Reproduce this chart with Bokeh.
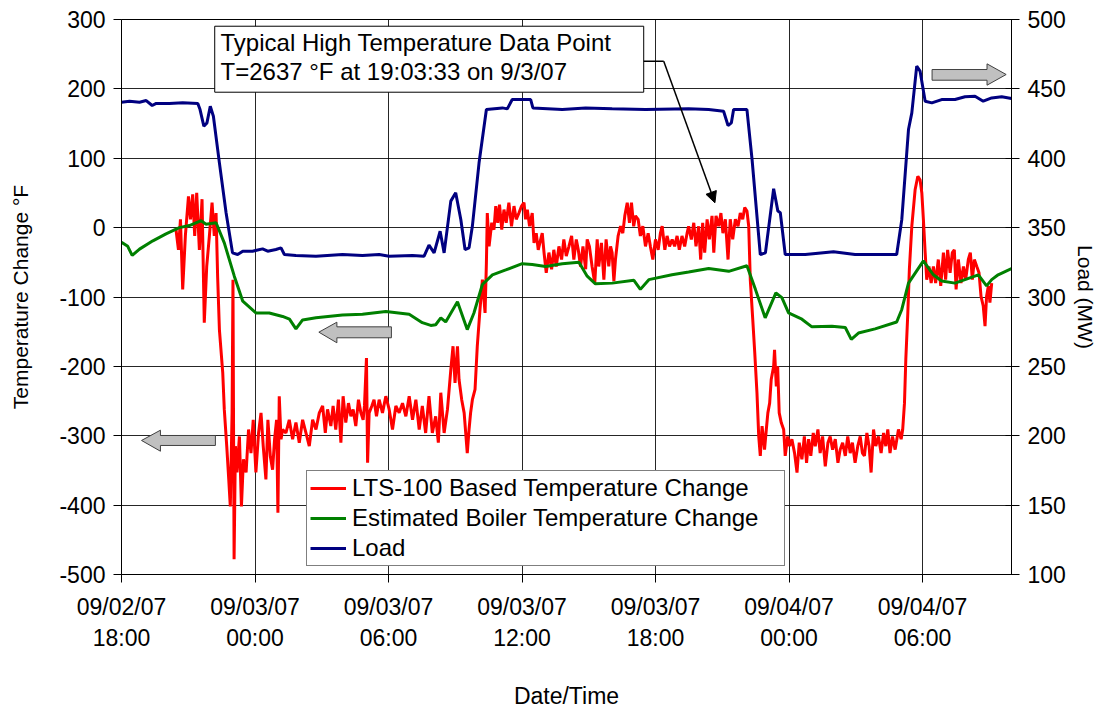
from bokeh.plotting import figure
from bokeh.models import (Range1d, LinearAxis, FixedTicker, Legend, LegendItem,
                          Label, Arrow, NormalHead)
from bokeh.embed import file_html
from bokeh.resources import INLINE

FONT = "Liberation Sans"
TICK_FS = "23px"
TEXT_FS = "24px"
VTITLE_FS = "21px"
XTITLE_FS = "23px"

# ---------------- data (hours after 09/02/07 18:00) ----------------
lts_hours = [
    2.45, 2.56, 2.65, 2.75, 2.87, 3.01, 3.10, 3.20, 3.29, 3.38,
    3.50, 3.62, 3.72, 3.83, 3.95, 4.07, 4.17, 4.25, 4.32, 4.40,
    4.55, 4.62, 4.73, 4.82, 4.89, 4.97, 5.01, 5.06, 5.12, 5.19,
    5.30, 5.39, 5.48, 5.60, 5.71, 5.82, 5.92, 6.04, 6.16, 6.27,
    6.37, 6.49, 6.58, 6.69, 6.79, 6.88, 6.97, 7.03, 7.09, 7.17,
    7.24, 7.39, 7.54, 7.69, 7.84, 7.99, 8.14, 8.29, 8.44, 8.59,
    8.74, 8.89, 9.04, 9.16, 9.26, 9.41, 9.51, 9.63, 9.75, 9.86,
    9.96, 10.08, 10.20, 10.31, 10.41, 10.53, 10.65, 10.76, 10.86, 10.92,
    11.01, 11.06, 11.13, 11.25, 11.35, 11.46,
    11.58, 11.73, 11.88, 12.03, 12.18, 12.33, 12.48, 12.63, 12.78, 12.93,
    13.08, 13.23, 13.38, 13.52, 13.67, 13.82, 13.97, 14.12, 14.24, 14.35,
    14.50, 14.65, 14.80, 14.90, 14.99, 15.10, 15.17, 15.29, 15.40, 15.47,
    15.54, 15.62, 15.69, 15.77, 15.89, 15.99, 16.10, 16.22, 16.34, 16.40,
    16.44, 16.52, 16.64, 16.74, 16.82, 16.91, 16.99, 17.09, 17.19, 17.29,
    17.41, 17.53, 17.64, 17.74, 17.86, 17.98, 18.09, 18.16, 18.24, 18.34,
    18.46, 18.54, 18.64, 18.73, 18.84, 18.91, 18.99, 19.09, 19.21, 19.33,
    19.43, 19.54, 19.66, 19.78, 19.88, 19.99, 20.11, 20.23, 20.33, 20.44,
    20.53, 20.63, 20.74, 20.86, 20.93, 21.03, 21.15, 21.27, 21.38, 21.45,
    21.57, 21.68, 21.78, 21.90, 21.98, 22.05, 22.13, 22.20, 22.32, 22.43,
    22.53, 22.62, 22.73, 22.83, 22.92, 23.02, 23.10, 23.22, 23.32, 23.43,
    23.55, 23.67, 23.77, 23.88, 24.00, 24.12, 24.22, 24.30, 24.42, 24.52,
    24.63, 24.75, 24.86, 24.97, 25.07, 25.19, 25.31, 25.42,
    25.49, 25.61, 25.72, 25.82, 25.94, 26.03, 26.12, 26.21, 26.32, 26.42,
    26.54, 26.62, 26.72, 26.84, 26.94, 27.03, 27.14, 27.26, 27.36, 27.47,
    27.59, 27.71, 27.81, 27.92, 28.01, 28.11, 28.19, 28.26, 28.37, 28.46,
    28.56, 28.64, 28.71, 28.79, 28.90, 28.98, 29.05, 29.13, 29.20, 29.31,
    29.35, 29.43, 29.49, 29.56, 29.65, 29.76, 29.83, 29.94, 30.03, 30.13,
    30.25, 30.36, 30.46, 30.58, 30.69, 30.79, 30.88, 30.98, 31.09, 31.18,
    31.30, 31.40, 31.51, 31.63, 31.75, 31.85, 31.96, 32.08, 32.20, 32.30,
    32.41, 32.53, 32.64, 32.75, 32.85, 32.97, 33.09, 33.20, 33.30, 33.39,
    33.50, 33.60, 33.69, 33.80, 33.90, 34.02, 34.14, 34.25, 34.35, 34.44,
    34.54, 34.65, 34.77, 34.92, 35.04, 35.11, 35.19, 35.25, 35.34, 35.41,
    35.52, 35.67, 35.79, 35.89, 35.97, 36.04, 36.12, 36.19, 36.29, 36.39,
    36.49, 36.59, 36.71, 36.82, 36.94, 37.04, 37.13, 37.24, 37.34, 37.43,
    37.51, 37.61, 37.73, 37.84, 37.94, 38.06, 38.15, 38.24, 38.33, 38.44,
    38.54, 38.63, 38.73, 38.81, 38.88, 38.96, 39.03, 39.11,
]
lts_temp = [
    -3, -32, 12, -89, -12, 45, 12, 48, -12, 50,
    -32, 41, -137, -56, -12, 36, -12, 21, -70, -147,
    -209, -262, -315, -363, -402, -267, -75, -478, -315, -353,
    -301, -402, -334, -353, -291, -325, -277, -353, -296, -267,
    -315, -363, -277, -330, -349, -305, -277, -411, -243, -305,
    -291, -296, -277, -305, -281, -310, -277, -296, -315, -277,
    -291, -267, -257, -296, -262, -286, -257, -291, -248, -310,
    -243, -281, -253, -272, -262, -286, -248, -267, -277, -257,
    -188, -339, -267, -257, -248, -272,
    -248, -267, -243, -262, -291, -257, -267, -253, -272, -243,
    -277, -248, -291, -257, -296, -243, -296, -272, -310, -238,
    -296, -262, -205, -171, -224, -171, -219, -248, -267, -296,
    -325, -291, -267, -248, -233, -171, -123, -75, -123, -51,
    21, -27, 7, -3, 31, 7, 33, -3, 26, 7,
    36, 2, 31, 12, 21, 31, 36, 12, 26, 2,
    21, -22, -8, -32, -17, -8, -36, -65, -36, -60,
    -32, -56, -27, -46, -17, -41, -27, -12, -46, -17,
    -32, -56, -27, -60, -17, -27, -56, -80, -17, -56,
    -22, -75, -17, -56, -27, -36, -77, -46, -12, 2,
    -8, 17, 36, 7, 36, 2, 17, 12, -12, 2,
    -27, -8, -27, -46, -17, -32, -8, 2, -32, -12,
    -27, -17, -27, -12, -32, -12, -27, -8,
    2, -17, 7, -27, 2, -46, 7, -36, 12, -17,
    17, -36, 17, 2, 21, -8, 12, -46, 12, -17,
    12, 2, 21, 12, 29, 24, 2, -75, -132, -180,
    -238, -301, -329, -286, -320, -291, -267, -253, -219, -200,
    -176, -229, -200, -267, -281, -291, -329, -301, -315, -305,
    -325, -353, -310, -334, -301, -339, -305, -329, -296, -315,
    -291, -325, -301, -344, -310, -301, -320, -305, -339, -320,
    -310, -329, -301, -325, -310, -339, -315, -301, -325, -329,
    -296, -315, -353, -291, -315, -301, -325, -296, -315, -291,
    -325, -301, -320, -291, -305, -291, -253, -190, -123, -60,
    2, 55, 74, 69, 50, 12, -36, -75, -56, -80,
    -56, -80, -46, -84, -36, -75, -32, -65, -36, -32,
    -89, -46, -80, -56, -75, -46, -36, -75, -46, -56,
    -65, -99, -113, -142, -99, -84, -108, -80,
]

boiler_hours = [
    0.0, 0.28, 0.48, 0.81, 1.41, 2.0, 2.6, 3.05, 3.58, 3.8,
    4.25, 4.62, 5.07, 5.45, 6.04, 6.64, 7.24, 7.55, 7.84, 8.14,
    8.74, 9.93, 10.83, 11.88, 12.93, 13.52, 13.9, 14.12, 14.35, 14.57,
    15.1, 15.54, 15.84, 16.22, 16.67, 17.27, 18.01, 18.46, 19.06, 19.81,
    20.56, 20.93, 21.3, 22.05, 23.03, 23.32, 23.7, 24.74, 25.49, 26.39,
    27.29, 28.11, 28.49, 28.93, 29.41, 29.68, 29.98, 30.58, 31.03, 31.93,
    32.53, 32.8, 33.12, 33.87, 34.84, 35.07, 35.37, 36.04, 36.49, 36.86,
    37.46, 37.91, 38.51, 38.88, 39.11, 39.4, 40.0,
]
boiler_temp = [
    -21, -27, -40, -31, -19, -9, 0, 3, 10, 5,
    7, -22, -70, -106, -123, -123, -128, -132, -146, -133,
    -130, -126, -125, -121, -125, -137, -141, -140, -130, -136,
    -107, -147, -123, -82, -68, -61, -52, -53, -56, -52,
    -50, -70, -81, -80, -76, -89, -75, -68, -64, -59,
    -63, -55, -89, -130, -94, -101, -123, -132, -143, -142,
    -144, -161, -152, -146, -136, -118, -80, -48, -68, -77,
    -80, -75, -68, -84, -75, -68, -59,
]

load_hours = [
    0.0, 0.36, 0.81, 1.11, 1.38, 1.56, 2.15, 2.75, 3.43, 3.53,
    3.70, 3.84, 3.99, 4.13, 4.40, 4.70, 4.99, 5.22, 5.45, 5.89,
    6.34, 6.57, 6.94, 7.17, 7.32, 7.84, 8.74, 9.93, 10.83, 11.58,
    12.03, 13.08, 13.60, 13.82, 14.05, 14.32, 14.50, 14.80, 15.02, 15.25,
    15.44, 15.62, 15.77, 16.07, 16.40, 17.12, 17.34, 17.56, 18.39, 18.49,
    19.81, 20.86, 22.05, 23.55, 25.49, 26.39, 27.06, 27.26, 27.41, 27.51,
    28.11, 28.34, 28.71, 28.94, 29.31, 29.50, 29.61, 29.83, 30.73, 32.00,
    32.97, 34.84, 35.07, 35.37, 35.52, 35.74, 35.89, 36.12, 36.42, 36.86,
    37.46, 37.91, 38.36, 38.73, 39.11, 39.56, 40.0,
]
load_mw = [
    440.4, 441.1, 440.4, 441.6, 438.0, 439.5, 439.5, 440.0, 439.5, 435.1,
    423.1, 425.5, 437.5, 430.3, 396.7, 360.7, 331.8, 330.6, 333.0, 333.0,
    334.7, 333.0, 334.2, 335.4, 330.6, 329.9, 329.4, 330.6, 329.9, 330.6,
    329.4, 329.9, 329.4, 337.4, 331.8, 347.4, 331.8, 369.1, 375.1, 355.9,
    334.2, 335.4, 351.1, 396.7, 435.1, 436.3, 435.6, 442.3, 442.3, 436.3,
    435.1, 436.3, 435.6, 435.1, 435.6, 435.1, 433.9, 423.6, 425.5, 435.1,
    435.1, 399.1, 330.6, 331.8, 378.0, 361.9, 360.7, 330.6, 330.6, 332.6,
    330.6, 330.6, 355.9, 420.7, 432.7, 466.4, 462.8, 441.1, 439.9, 442.3,
    442.3, 444.3, 444.7, 441.1, 443.5, 444.3, 443.1,
]

x_ticks = [0, 6, 12, 18, 24, 30, 36]
x_tick_labels = ["09/02/07\n18:00", "09/03/07\n00:00", "09/03/07\n06:00",
                 "09/03/07\n12:00", "09/03/07\n18:00", "09/04/07\n00:00",
                 "09/04/07\n06:00"]
temp_ticks = [-500, -400, -300, -200, -100, 0, 100, 200, 300]
temp_tick_labels = ["-500", "-400", "-300", "-200", "-100", "0", "100", "200", "300"]
load_ticks = [100, 150, 200, 250, 300, 350, 400, 450, 500]

series_names = ["LTS-100 Based Temperature Change",
                "Estimated Boiler Temperature Change", "Load"]
series_colors = ["#FF0000", "#008000", "#000080"]

note_lines = ["Typical High Temperature Data Point",
              "T=2637 \u00b0F at 19:03:33 on 9/3/07"]

# ---------------- figure ----------------
p = figure(frame_width=890, frame_height=555, output_backend="svg",
           toolbar_location=None, x_range=Range1d(0, 40),
           y_range=Range1d(-500, 300),
           min_border_left=121, min_border_right=84,
           min_border_top=19, min_border_bottom=131,
           background_fill_color="white", border_fill_color="white")
p.outline_line_color = "black"
p.outline_line_width = 1
p.extra_y_ranges = {"load": Range1d(100, 500)}

def style_axis(ax, tick_in, tick_out, title_fs):
    ax.axis_line_color = "black"
    ax.major_tick_line_color = "black"
    ax.major_tick_in = tick_in
    ax.major_tick_out = tick_out
    ax.minor_tick_line_color = None
    ax.major_label_text_font = FONT
    ax.major_label_text_font_size = TICK_FS
    ax.major_label_text_color = "black"
    ax.axis_label_text_font = FONT
    ax.axis_label_text_font_size = title_fs
    ax.axis_label_text_font_style = "normal"
    ax.axis_label_text_color = "black"

xax = p.xaxis[0]
style_axis(xax, 0, 8, XTITLE_FS)
xax.ticker = FixedTicker(ticks=x_ticks)
xax.major_label_overrides = {t: lab for t, lab in zip(x_ticks, x_tick_labels)}
xax.major_label_standoff = 11
xax.major_label_text_line_height = 1.22
xax.axis_label = "Date/Time"
xax.axis_label_standoff = 29

yax = p.yaxis[0]
style_axis(yax, 0, 8, VTITLE_FS)
yax.ticker = FixedTicker(ticks=temp_ticks)
yax.major_label_overrides = {t: lab for t, lab in zip(temp_ticks, temp_tick_labels)}
yax.major_label_standoff = 8
yax.axis_label = "Temperature Change \u00b0F"
yax.axis_label_standoff = 24

rax = LinearAxis(y_range_name="load", ticker=FixedTicker(ticks=load_ticks))
style_axis(rax, 6, 8, VTITLE_FS)
rax.major_label_standoff = 8
rax.axis_label = "Load (MW)"
rax.axis_label_standoff = 5
p.add_layout(rax, "right")

p.xgrid.ticker = FixedTicker(ticks=x_ticks)
p.ygrid.ticker = FixedTicker(ticks=temp_ticks)
for g in (p.xgrid[0], p.ygrid[0]):
    g.grid_line_color = "black"
    g.grid_line_alpha = 0.85
    g.grid_line_width = 1

# ---------------- series ----------------
r_lts = p.line(lts_hours, lts_temp, color=series_colors[0], line_width=3)
r_boiler = p.line(boiler_hours, boiler_temp, color=series_colors[1], line_width=3)
r_load = p.line(load_hours, load_mw, color=series_colors[2], line_width=3,
                y_range_name="load")

# ---------------- gray axis-pointer arrows (annotation shapes) ----------------
arrow_xs = [
    [0.90, 1.75, 1.75, 4.22, 4.22, 1.75, 1.75],
    [8.87, 9.68, 9.68, 12.13, 12.13, 9.68, 9.68],
    [36.43, 38.90, 38.90, 39.76, 38.90, 38.90, 36.43],
]
arrow_ys = [
    [-306.8, -292.0, -299.6, -299.6, -314.0, -314.0, -322.3],
    [-150.7, -136.3, -143.0, -143.0, -158.8, -158.8, -166.0],
    [227.9, 227.9, 236.1, 220.7, 205.3, 212.5, 212.5],
]
p.patches(arrow_xs, arrow_ys, fill_color="#C0C0C0", line_color="#404040",
          line_width=1)

# ---------------- callout ----------------
p.quad(left=[4.19], right=[23.47], top=[290.3], bottom=[195.2],
       fill_color="white", line_color="black", line_width=1)
for txt, yy in zip(note_lines, [267.3, 225.5]):
    p.add_layout(Label(x=4.45, y=yy, text=txt, text_font=FONT,
                       text_font_size=TEXT_FS, text_color="black",
                       text_baseline="middle", text_align="left"))
p.line([23.47, 24.37], [239.9, 239.9], color="black", line_width=1.5)
p.add_layout(Arrow(end=NormalHead(size=11, fill_color="black",
                                  line_color="black"),
                   x_start=24.37, y_start=239.9, x_end=26.67, y_end=35.8,
                   line_color="black", line_width=1.5))

# ---------------- legend ----------------
legend = Legend(items=[LegendItem(label=series_names[0], renderers=[r_lts]),
                       LegendItem(label=series_names[1], renderers=[r_boiler]),
                       LegendItem(label=series_names[2], renderers=[r_load])],
                location=(185, 8))
legend.label_text_font = FONT
legend.label_text_font_size = TEXT_FS
legend.label_text_color = "black"
legend.border_line_color = "black"
legend.border_line_width = 1
legend.background_fill_color = "white"
legend.background_fill_alpha = 1
legend.padding = 3
legend.spacing = 2
legend.margin = 0
legend.label_height = 24
legend.glyph_height = 24
legend.glyph_width = 36
legend.label_standoff = 6
legend.label_width = 429
p.add_layout(legend)

open("out.html", "w").write(file_html(p, INLINE))
